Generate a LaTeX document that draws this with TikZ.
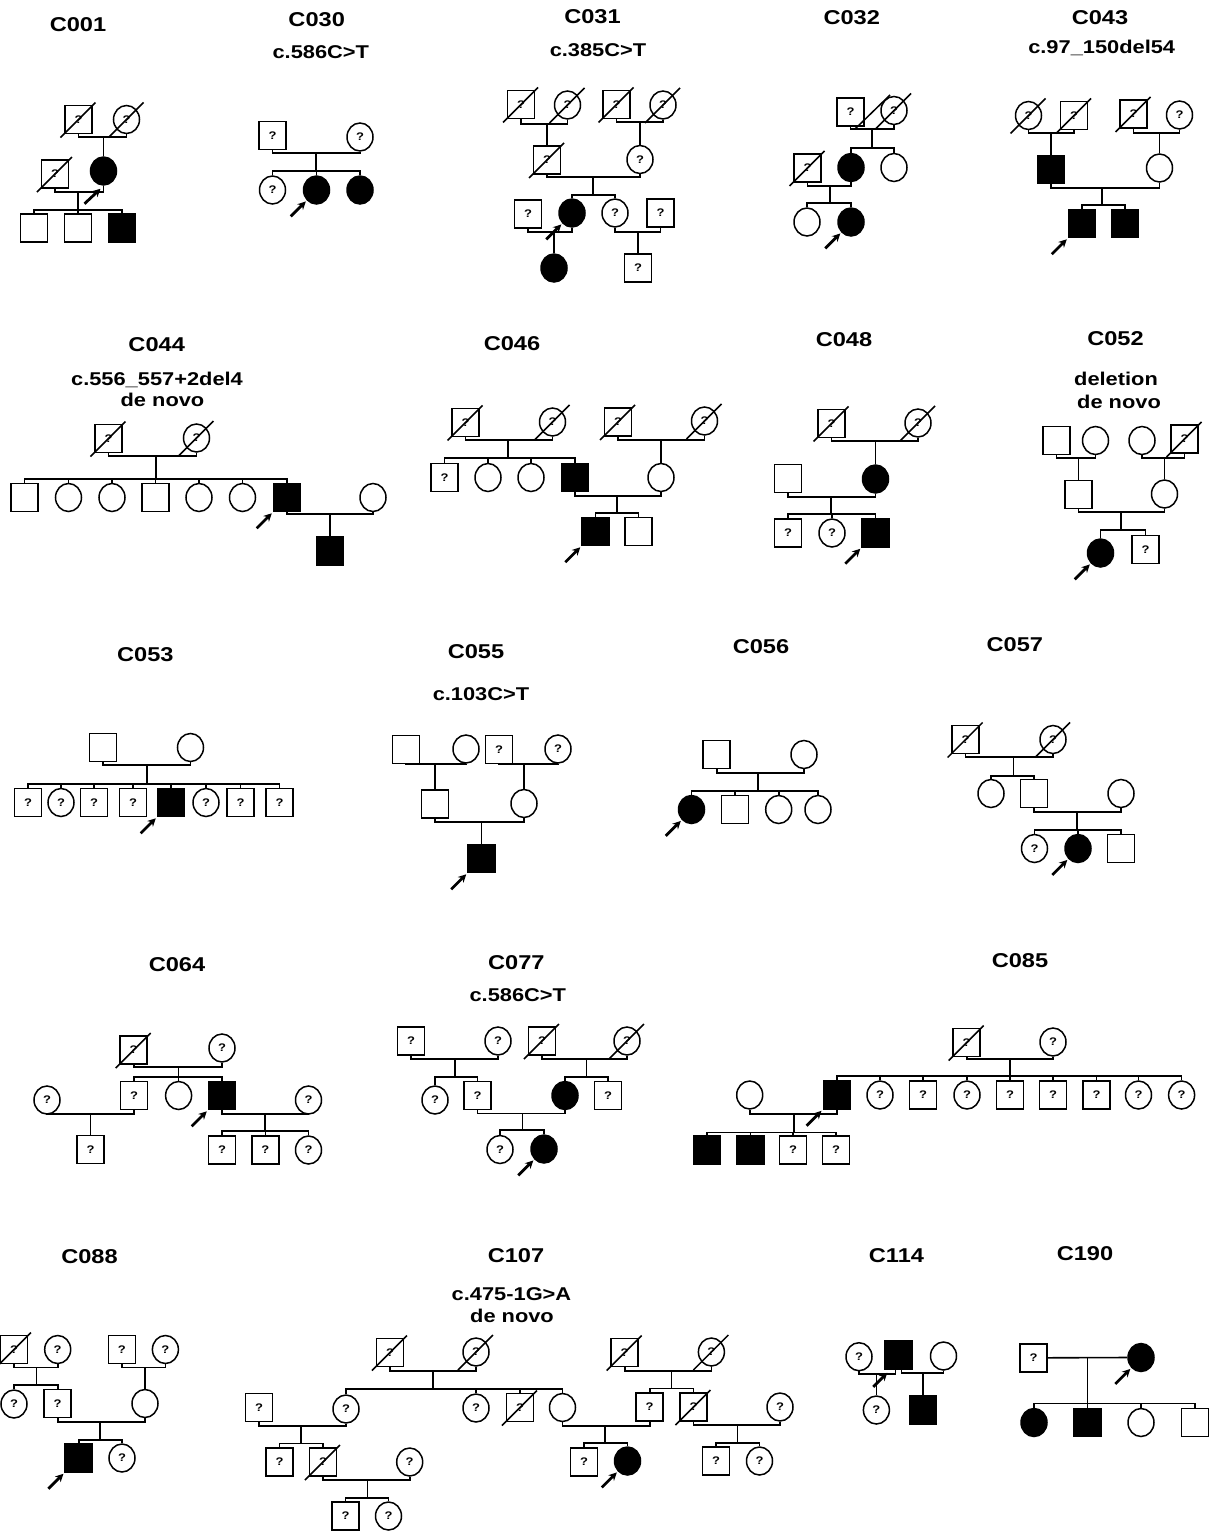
\documentclass[tikz,border=0pt]{standalone}
\usepackage{fontspec}
\setmainfont{Liberation Sans}
\newfontfamily\lab[FakeStretch=1.18]{Liberation Sans}
\usetikzlibrary{shapes.geometric,arrows.meta}
\tikzset{
  x=1pt,y=-1pt,
  ind/.style={draw,line width=1.5pt,inner sep=0pt,font=\lab\bfseries\fontsize{11}{11}\selectfont},
  msq/.style={ind,rectangle,minimum width=27pt,minimum height=28pt},
  fci/.style={ind,ellipse,minimum width=26pt,minimum height=28pt},
  aff/.style={fill=black},
  ln/.style={line width=1.6pt},
  ttl/.style={font=\lab\bfseries\fontsize{20}{20}\selectfont,inner sep=0pt},
  mut/.style={font=\lab\bfseries\fontsize{18.5}{20}\selectfont,inner sep=0pt},
  prb/.style={line width=2.8pt,-{Stealth[length=8pt,width=8pt]}},
  dsl/.style={line width=1.5pt},
}
\newcommand\pdead[1]{\draw[dsl] ([shift={(-18,18)}]#1.center) -- ([shift={(17,-17)}]#1.center);}
\newcommand\pmate[3]{\draw[ln] (#1.south) -- (#1.south |- 0,#3) -- (#2.south |- 0,#3) -- (#2.south);}
\newcommand\psibs[3]{\draw[ln] (#1.north) -- (#1.north |- 0,#3) -- (#2.north |- 0,#3) -- (#2.north);}
\newcommand\pdrop[2]{\draw[ln] (#1.north) -- (#1.north |- 0,#2);}
\newcommand\pdrops[2]{\foreach \nn in {#1}{\pdrop{\nn}{#2}}}
\newcommand\pdesc[3]{\draw[ln] (#1,#2) -- (#1,#3);}
\newcommand\pprob[1]{\draw[prb] ([shift={(-16,16)}]#1.south west) -- ([shift={(-1,1)}]#1.south west);}
\begin{document}
\begin{tikzpicture}
\fill[white] (0,0) rectangle (1209,1531);
\useasboundingbox (0,0) rectangle (1209,1531);

% ---------------- C001
\node[ttl] (t001) at (78,25) {C001};
\node[msq] (a1) at (78.5,119.5) {?}; \pdead{a1}
\node[fci] (a2) at (126.5,119.5) {?}; \pdead{a2}
\node[msq] (a3) at (55,174) {?}; \pdead{a3}
\node[fci,aff] (a4) at (103.5,171) {};
\node[msq] (a5) at (34,228) {};
\node[msq] (a6) at (78,228) {};
\node[msq,aff] (a7) at (122,228) {};
\pmate{a1}{a2}{137}
\pdrop{a4}{137}
\pmate{a3}{a4}{192}
\pdesc{78}{192}{210}
\psibs{a5}{a7}{210} \pdrop{a6}{210}
\draw[prb] ([shift={(-19,18)}]a4.south) -- ([shift={(-3,3)}]a4.south);

% ---------------- C030
\node[ttl] (t030) at (316.7,20) {C030};
\node[mut] (m030) at (320.8,52) {c.586C>T};
\node[msq] (b1) at (272.5,135.5) {?};
\node[fci] (b2) at (360,137) {?};
\node[fci] (b3) at (272.5,190) {?};
\node[fci,aff] (b4) at (316.5,190) {};
\node[fci,aff] (b5) at (360,190) {};
\pmate{b1}{b2}{153}
\pdesc{316}{153}{171}
\psibs{b3}{b5}{171} \pdrop{b4}{171}
\pprob{b4}

% ---------------- C031
\node[ttl] (t031) at (592.5,17) {C031};
\node[mut] (m031) at (598,50) {c.385C>T};
\node[msq] (c1) at (521,104.5) {?}; \pdead{c1}
\node[fci] (c2) at (567.5,105) {?}; \pdead{c2}
\node[msq] (c3) at (616.5,104.5) {?}; \pdead{c3}
\node[fci] (c4) at (663,105) {?}; \pdead{c4}
\node[msq] (c5) at (547,160) {?}; \pdead{c5}
\node[fci] (c6) at (640,159.5) {?};
\pmate{c1}{c2}{124} \pdrop{c5}{124}
\pmate{c3}{c4}{122} \pdrop{c6}{122}
\pmate{c5}{c6}{177}
\pdesc{593}{177}{195}
\node[msq] (c7) at (528,214) {?};
\node[fci,aff] (c8) at (572,213) {};
\node[fci] (c9) at (615,213) {?};
\node[msq] (c10) at (660.5,213) {?};
\psibs{c8}{c9}{195}
\pmate{c7}{c8}{232}
\node[fci,aff] (c11) at (554,268) {};
\pdrop{c11}{232}
\pmate{c9}{c10}{232}
\node[msq] (c12) at (638,268) {?};
\pdrop{c12}{232}
\pprob{c8}

% ---------------- C032
\node[ttl] (t032) at (851.7,18) {C032};
\node[msq] (d1) at (850.5,112) {?};
\node[fci] (d2) at (894,110.5) {?}; \pdead{d2}
\draw[dsl] (855,129) -- (890,95);
\pmate{d1}{d2}{129}
\pdesc{872}{129}{148}
\node[msq] (d3) at (807.5,168) {?}; \pdead{d3}
\node[fci,aff] (d4) at (851,167.5) {};
\node[fci] (d5) at (894,167.5) {};
\psibs{d4}{d5}{148}
\pmate{d3}{d4}{186}
\pdesc{830}{186}{203}
\node[fci] (d6) at (807,222) {};
\node[fci,aff] (d7) at (851,222) {};
\psibs{d6}{d7}{203}
\pprob{d7}

% ---------------- C043
\node[ttl] (t043) at (1100,18) {C043};
\node[mut] (m043) at (1101.7,48) {c.97\_150del54};
\node[fci] (e1) at (1028.5,115.5) {?}; \pdead{e1}
\node[msq] (e2) at (1074,115.5) {?}; \pdead{e2}
\node[msq] (e3) at (1133.5,114) {?}; \pdead{e3}
\node[fci] (e4) at (1179.5,115) {?};
\node[msq,aff] (e5) at (1051,169.5) {};
\node[fci] (e6) at (1159.5,168) {};
\pmate{e1}{e2}{133} \pdrop{e5}{133}
\pmate{e3}{e4}{133} \pdrop{e6}{133}
\pmate{e5}{e6}{188}
\pdesc{1102}{188}{205}
\node[msq,aff] (e7) at (1082,223.5) {};
\node[msq,aff] (e8) at (1125,223.5) {};
\psibs{e7}{e8}{205}
\pprob{e7}

% ---------------- C044
\node[ttl] (t044) at (156.7,345) {C044};
\node[mut] (m044a) at (157,380) {c.556\_557+2del4};
\node[mut] (m044b) at (162.5,400) {de novo};
\node[msq] (f1) at (108.5,438.5) {?}; \pdead{f1}
\node[fci] (f2) at (196.5,438) {?}; \pdead{f2}
\pmate{f1}{f2}{456}
\pdesc{155.7}{456}{479}
\node[msq] (f3) at (24.5,497.5) {};
\node[fci] (f4) at (68.5,497.5) {};
\node[fci] (f5) at (112,497.5) {};
\node[msq] (f6) at (155.5,497.5) {};
\node[fci] (f7) at (199,497.5) {};
\node[fci] (f8) at (242.5,497.5) {};
\node[msq,aff] (f9) at (287,497.5) {};
\node[fci] (f10) at (373,497.5) {};
\psibs{f3}{f9}{479} \pdrops{f4,f5,f6,f7,f8}{479}
\pmate{f9}{f10}{514}
\node[msq,aff] (f11) at (330,551) {};
\pdrop{f11}{514}
\pprob{f9}

% ---------------- C046
\node[ttl] (t046) at (512,344) {C046};
\node[msq] (g1) at (465.5,422.5) {?}; \pdead{g1}
\node[fci] (g2) at (552.5,422) {?}; \pdead{g2}
\node[msq] (g3) at (618,422) {?}; \pdead{g3}
\node[fci] (g4) at (704.5,421) {?}; \pdead{g4}
\pmate{g1}{g2}{440}
\pdesc{508}{440}{458}
\node[msq] (g5) at (444.5,477.5) {?};
\node[fci] (g6) at (488,477.5) {};
\node[fci] (g7) at (531,477.5) {};
\node[msq,aff] (g8) at (575,477.5) {};
\psibs{g5}{g8}{458} \pdrops{g6,g7}{458}
\pmate{g3}{g4}{440}
\node[fci] (g9) at (661,477.5) {};
\pdrop{g9}{440}
\pmate{g8}{g9}{496}
\pdesc{617}{496}{513}
\node[msq,aff] (g10) at (595.5,531.5) {};
\node[msq] (g11) at (638.5,531.5) {};
\psibs{g10}{g11}{513}
\pprob{g10}

% ---------------- C048
\node[ttl] (t048) at (844,340) {C048};
\node[msq] (h1) at (831.5,423.5) {?}; \pdead{h1}
\node[fci] (h2) at (918,423) {?}; \pdead{h2}
\node[msq] (h3) at (788,478.5) {};
\node[fci,aff] (h4) at (875.5,479) {};
\pmate{h1}{h2}{441} \pdrop{h4}{441}
\pmate{h3}{h4}{497}
\pdesc{831}{497}{514}
\node[msq] (h5) at (788,533) {?};
\node[fci] (h6) at (832,533) {?};
\node[msq,aff] (h7) at (875.5,533) {};
\psibs{h5}{h7}{514} \pdrop{h6}{514}
\pprob{h7}

% ---------------- C052
\node[ttl] (t052) at (1115.5,338.5) {C052};
\node[mut] (m052a) at (1116,379) {deletion};
\node[mut] (m052b) at (1119,402) {de novo};
\node[msq] (i1) at (1056.5,440.5) {};
\node[fci] (i2) at (1095.5,440.5) {};
\node[fci] (i3) at (1142,440.5) {};
\node[msq] (i4) at (1184.5,439) {?}; \pdead{i4}
\node[msq] (i5) at (1078.5,494.5) {};
\node[fci] (i6) at (1164.5,494) {};
\pmate{i1}{i2}{458} \pdrop{i5}{458}
\pmate{i3}{i4}{458} \pdrop{i6}{458}
\pmate{i5}{i6}{512}
\pdesc{1121}{512}{530}
\node[fci,aff] (i7) at (1100.5,553) {};
\node[msq] (i8) at (1145.5,549.5) {?};
\psibs{i7}{i8}{530}
\pprob{i7}

% ---------------- C053
\node[ttl] (t053) at (145.3,654.5) {C053};
\node[msq] (j1) at (103,747.5) {};
\node[fci] (j2) at (190.5,747.5) {};
\pmate{j1}{j2}{765}
\pdesc{147}{765}{784}
\node[msq] (j3) at (28,802.5) {?};
\node[fci] (j4) at (61,802.5) {?};
\node[msq] (j5) at (94,802.5) {?};
\node[msq] (j6) at (133,802.5) {?};
\node[msq,aff] (j7) at (171,802.5) {};
\node[fci] (j8) at (206,802.5) {?};
\node[msq] (j9) at (240.5,802.5) {?};
\node[msq] (j10) at (279.5,802.5) {?};
\psibs{j3}{j10}{784} \pdrops{j4,j5,j6,j7,j8,j9}{784}
\pprob{j7}

% ---------------- C055
\node[ttl] (t055) at (476,652) {C055};
\node[mut] (m055) at (481,694.5) {c.103C>T};
\node[msq] (k1) at (406,749.5) {};
\node[fci] (k2) at (466,749) {};
\node[msq] (k3) at (499,749.5) {?};
\node[fci] (k4) at (558,749) {?};
\node[msq] (k5) at (435,804) {};
\node[fci] (k6) at (524,803.5) {};
\pmate{k1}{k2}{764} \pdrop{k5}{764}
\pmate{k3}{k4}{764} \pdrop{k6}{764}
\pmate{k5}{k6}{822}
\node[msq,aff] (k7) at (481.5,858.5) {};
\pdrop{k7}{822}
\pprob{k7}

% ---------------- C056
\node[ttl] (t056) at (761,646.5) {C056};
\node[msq] (l1) at (716.7,754.5) {};
\node[fci] (l2) at (804,754.5) {};
\pmate{l1}{l2}{773}
\pdesc{758}{773}{791}
\node[fci,aff] (l3) at (691.5,809.5) {};
\node[msq] (l4) at (735,809.5) {};
\node[fci] (l5) at (778.7,809.5) {};
\node[fci] (l6) at (818,809.5) {};
\psibs{l3}{l6}{791} \pdrops{l4,l5}{791}
\pprob{l3}

% ---------------- C057
\node[ttl] (t057) at (1014.8,644.5) {C057};
\node[msq] (m1) at (965.6,739.5) {?}; \pdead{m1}
\node[fci] (m2) at (1053,739.5) {?}; \pdead{m2}
\pmate{m1}{m2}{757}
\pdesc{1013.3}{757}{775.7}
\node[fci] (m3) at (991,793.5) {};
\node[msq] (m4) at (1034,793.5) {};
\node[fci] (m5) at (1121,793.5) {};
\psibs{m3}{m4}{775.7}
\pmate{m4}{m5}{811.7}
\pdesc{1077}{811.7}{830}
\node[fci] (m6) at (1034.5,848.5) {?};
\node[fci,aff] (m7) at (1078,848.5) {};
\node[msq] (m8) at (1121,848.5) {};
\psibs{m6}{m8}{830} \pdrop{m7}{830}
\pprob{m7}

% ---------------- C064
\node[ttl] (t064) at (177,965) {C064};
\node[msq] (n1) at (133.7,1050) {?}; \pdead{n1}
\node[fci] (n2) at (222,1048) {?};
\pmate{n1}{n2}{1066.7}
\pdesc{178.4}{1066.7}{1076.7}
\node[fci] (n3) at (47,1100) {?};
\node[msq] (n4) at (134,1095.5) {?};
\node[fci] (n5) at (178.6,1095.5) {};
\node[msq,aff] (n6) at (222,1095.5) {};
\node[fci] (n7) at (308.5,1100) {?};
\psibs{n4}{n6}{1076.7} \pdrop{n5}{1076.7}
\pmate{n3}{n4}{1114}
\node[msq] (n8) at (90.5,1149.5) {?};
\pdrop{n8}{1114}
\pmate{n6}{n7}{1114}
\pdesc{265}{1114}{1130.7}
\node[msq] (n9) at (222,1150) {?};
\node[msq] (n10) at (265.3,1150) {?};
\node[fci] (n11) at (308.5,1150) {?};
\psibs{n9}{n11}{1130.7} \pdrop{n10}{1130.7}
\pprob{n6}

% ---------------- C077
\node[ttl] (t077) at (516.3,963) {C077};
\node[mut] (m077) at (517.8,995.5) {c.586C>T};
\node[msq] (o1) at (411,1041) {?};
\node[fci] (o2) at (498,1041) {?};
\node[msq] (o3) at (542,1041) {?}; \pdead{o3}
\node[fci] (o4) at (627,1041) {?}; \pdead{o4}
\pmate{o1}{o2}{1059}
\pdesc{455}{1059}{1076.7}
\node[fci] (o5) at (435,1100) {?};
\node[msq] (o6) at (477.6,1095.5) {?};
\psibs{o5}{o6}{1076.7}
\pmate{o3}{o4}{1059}
\pdesc{586.5}{1059}{1076.7}
\node[fci,aff] (o7) at (565,1095.5) {};
\node[msq] (o8) at (608,1095.5) {?};
\psibs{o7}{o8}{1076.7}
\pmate{o6}{o7}{1113.3}
\pdesc{522.4}{1113.3}{1130}
\node[fci] (o9) at (500,1149.5) {?};
\node[fci,aff] (o10) at (544,1149) {};
\psibs{o9}{o10}{1130}
\pprob{o10}

% ---------------- C085
\node[ttl] (t085) at (1020,960.5) {C085};
\node[msq] (p1) at (966.7,1042.5) {?}; \pdead{p1}
\node[fci] (p2) at (1053,1042) {?};
\pmate{p1}{p2}{1059}
\pdesc{1010}{1059}{1075.7}
\node[fci] (p3) at (749.7,1095) {};
\node[msq,aff] (p4) at (836.8,1095) {};
\node[fci] (p5) at (880,1095) {?};
\node[msq] (p6) at (923,1095) {?};
\node[fci] (p7) at (967,1095) {?};
\node[msq] (p8) at (1010,1095) {?};
\node[msq] (p9) at (1053,1095) {?};
\node[msq] (p10) at (1096.5,1095) {?};
\node[fci] (p11) at (1138.5,1095) {?};
\node[fci] (p12) at (1181.6,1095) {?};
\psibs{p4}{p12}{1075.7} \pdrops{p5,p6,p7,p8,p9,p10,p11}{1075.7}
\pmate{p3}{p4}{1114}
\pdesc{794}{1114}{1132.3}
\node[msq,aff] (p13) at (707,1150) {};
\node[msq,aff] (p14) at (750.5,1150) {};
\node[msq] (p15) at (793,1150) {?};
\node[msq] (p16) at (836,1150) {?};
\psibs{p13}{p16}{1132.3} \pdrops{p14,p15}{1132.3}
\pprob{p4}

% ---------------- C088
\node[ttl] (t088) at (89.5,1256.5) {C088};
\node[msq] (q1) at (14,1349.5) {?}; \pdead{q1}
\node[fci] (q2) at (57.7,1349.5) {?};
\node[msq] (q3) at (121.8,1349.5) {?};
\node[fci] (q4) at (165.4,1349.5) {?};
\pmate{q1}{q2}{1367.3}
\pdesc{36.4}{1367.3}{1385}
\node[fci] (q5) at (14,1404) {?};
\node[msq] (q6) at (57.7,1403.5) {?};
\psibs{q5}{q6}{1385}
\pmate{q3}{q4}{1367.3}
\node[fci] (q7) at (145,1403.5) {};
\pdrop{q7}{1367.3}
\pmate{q6}{q7}{1421.7}
\pdesc{100}{1421.7}{1440}
\node[msq,aff] (q8) at (78.7,1458) {};
\node[fci] (q9) at (122,1458) {?};
\psibs{q8}{q9}{1440}
\pprob{q8}

% ---------------- C107
\node[ttl] (t107) at (516,1255.5) {C107};
\node[mut] (m107a) at (511.5,1294) {c.475-1G>A};
\node[mut] (m107b) at (512,1315.5) {de novo};
\node[msq] (r1) at (390,1352.5) {?}; \pdead{r1}
\node[fci] (r2) at (476,1352) {?}; \pdead{r2}
\pmate{r1}{r2}{1370.7}
\pdesc{432.8}{1370.7}{1389}
\node[msq] (r3) at (259,1407.5) {?};
\node[fci] (r4) at (346,1409) {?};
\node[fci] (r5) at (476,1408) {?};
\node[msq] (r6) at (520,1407.5) {?}; \pdead{r6}
\node[fci] (r7) at (562.5,1407.5) {};
\psibs{r4}{r7}{1389} \pdrops{r5,r6}{1389}
\pmate{r3}{r4}{1425.7}
\pdesc{301}{1425.7}{1443.3}
\node[msq] (r8) at (279.5,1462) {?};
\node[msq] (r9) at (323,1462) {?}; \pdead{r9}
\node[fci] (r10) at (409.7,1462) {?};
\psibs{r8}{r9}{1443.3}
\pmate{r9}{r10}{1480}
\pdesc{367.6}{1480}{1497.7}
\node[msq] (r11) at (345.5,1516) {?};
\node[fci] (r12) at (388.5,1516) {?};
\psibs{r11}{r12}{1497.7}
\node[msq] (r13) at (624.7,1352.5) {?}; \pdead{r13}
\node[fci] (r14) at (711.4,1352) {?}; \pdead{r14}
\pmate{r13}{r14}{1370.7}
\pdesc{671.5}{1370.7}{1388.3}
\node[msq] (r15) at (649.7,1407) {?};
\node[msq] (r16) at (693.5,1407) {?}; \pdead{r16}
\node[fci] (r17) at (780,1407) {?};
\psibs{r15}{r16}{1388.3}
\pmate{r7}{r15}{1426}
\pdesc{605}{1426}{1442.7}
\node[msq] (r18) at (584,1462) {?};
\node[fci,aff] (r19) at (627.5,1461) {};
\psibs{r18}{r19}{1442.7}
\pmate{r16}{r17}{1425}
\pdesc{737.6}{1425}{1442.7}
\node[msq] (r20) at (716,1461) {?};
\node[fci] (r21) at (759.5,1461) {?};
\psibs{r20}{r21}{1442.7}
\pprob{r19}

% ---------------- C114
\node[ttl] (t114) at (896.5,1255.5) {C114};
\node[fci] (s1) at (859,1356.7) {?};
\node[msq,aff] (s2) at (898.5,1355) {};
\node[fci] (s3) at (943.5,1356) {};
\coordinate (s2l) at ([xshift=-3pt]s2.south);
\coordinate (s2r) at ([xshift=3pt]s2.south);
\draw[ln] (s1.south) -- (s1.south |- 0,1374) -- (s2l |- 0,1374) -- (s2l);
\draw[ln] (s2r) -- (s2r |- 0,1373) -- (s3.south |- 0,1373) -- (s3.south);
\node[fci] (s4) at (876.4,1410) {?};
\node[msq,aff] (s5) at (923,1410) {};
\pdrop{s4}{1374}
\pdrop{s5}{1373}
\draw[prb] ([shift={(-11,17)}]s2.south west) -- ([shift={(3,3)}]s2.south west);

% ---------------- C190
\node[ttl] (t190) at (1085,1253.5) {C190};
\node[msq] (u1) at (1033.7,1357.8) {?};
\node[fci,aff] (u2) at (1141,1357.5) {};
\draw[ln] (u1.east) -- (u2.west);
\pdesc{1087.4}{1357.5}{1403.3}
\node[fci,aff] (u3) at (1034,1422.5) {};
\node[msq,aff] (u4) at (1087.5,1422.5) {};
\node[fci] (u5) at (1141,1422.5) {};
\node[msq] (u6) at (1195,1422.5) {};
\psibs{u3}{u6}{1403.3} \pdrops{u4,u5}{1403.3}
\pprob{u2}
\end{tikzpicture}
\end{document}
